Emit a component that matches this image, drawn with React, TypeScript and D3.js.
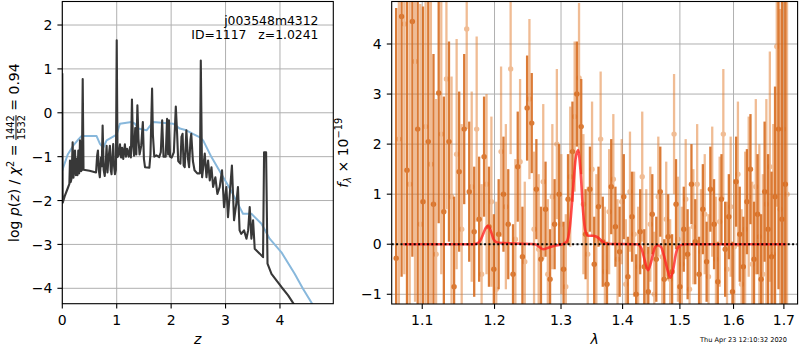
import React from "react";
import * as d3 from "d3";

// p(z) panel: redshift grid and log p(z) of the fit (dark) and the prior-like curve (blue)
const zDark = [
  0.0, 0.008, 0.05, 0.1, 0.13, 0.141, 0.155, 0.17, 0.19, 0.205, 0.22, 0.233, 0.25, 0.265, 0.28,
  0.294, 0.31, 0.325, 0.345, 0.36, 0.375, 0.39, 0.5, 0.62, 0.64, 0.655, 0.67, 0.69, 0.71, 0.725,
  0.741, 0.76, 0.78, 0.8, 0.814, 0.83, 0.85, 0.875, 0.89, 0.905, 0.92, 0.936, 0.95, 0.967, 0.985,
  1.0, 1.015, 1.04, 1.06, 1.08, 1.1, 1.12, 1.15, 1.17, 1.19, 1.22, 1.245, 1.26, 1.28, 1.3, 1.32,
  1.34, 1.36, 1.38, 1.4, 1.42, 1.45, 1.48, 1.5, 1.52, 1.6, 1.62, 1.65, 1.665, 1.69, 1.73, 1.78,
  1.81, 1.835, 1.86, 1.9, 1.925, 1.945, 1.96, 1.98, 2.01, 2.05, 2.086, 2.11, 2.13, 2.17, 2.19,
  2.21, 2.23, 2.25, 2.28, 2.31, 2.33, 2.355, 2.37, 2.4, 2.43, 2.48, 2.53, 2.545, 2.569, 2.618,
  2.649, 2.679, 2.71, 2.741, 2.771, 2.813, 2.85, 2.893, 2.935, 2.972, 3.015, 3.045, 3.117, 3.156,
  3.197, 3.228, 3.258, 3.288, 3.34, 3.384, 3.415, 3.444, 3.475, 3.506, 3.536, 3.628, 3.689, 3.708,
  3.745, 3.771, 3.844, 3.935, 4.027, 4.15, 4.27, 4.4,
];
const logpDark = [
  0.9, -2.05, -1.88, -1.72, -1.62, -1.09, -1.58, -1.5, -0.67, -1.48, -1.25, -0.86, -1.42, -1.05, -1.42,
  -0.86, -1.38, -0.63, -1.33, -1.3, 0.77, -1.3, -1.32, -1.36, -0.98, -0.86, -1.3, -1.47, -1.02, -1.22,
  -0.29, -1.3, -1.44, -1.1, -0.75, -1.36, -1.02, -0.75, -1.3, -1.4, -1.02, -0.71, -1.2, -1.4, -1.3,
  1.65, -1.01, -0.95, -0.72, -1.02, -0.8, -1.05, -0.72, -1.0, -0.82, -1.0, -0.78, -1.02, 0.3, -0.75, -0.98,
  -0.35, -0.95, 0.17, -0.6, -0.95, -0.75, -0.21, -1.05, -1.24, -1.25, -0.95, 0.55, -0.5, -1.0, -0.97, -1.01,
  -0.9, -0.17, -1.0, -1.0, -0.14, -0.95, -0.17, -1.0, -1.02, -0.9, 0.14, -0.48, -1.1, -1.16, -0.55,
  -0.48, -1.2, -1.24, -0.4, -1.05, -1.24, -0.62, -0.48, -1.1, -1.31, -1.38, -1.38, 1.19, -1.47, -0.93,
  -1.47, -1.09, -1.54, -1.24, -1.69, -1.47, -1.85, -1.69, -1.31, -2.15, -1.69, -2.38, -1.2, -2.45,
  -2.07, -1.69, -2.68, -2.76, -2.68, -2.87, -2.68, -2.15, -2.87, -2.45, -3.1, -3.21, -3.29, -0.9,
  -0.9, -3.44, -3.67, -3.82, -3.97, -4.16, -4.39, -4.62,
];
const zBlue = [
  0.0, 0.019, 0.1, 0.2, 0.3, 0.355, 0.63, 0.692, 0.753, 0.814, 0.998, 1.058, 1.273, 1.334, 1.395,
  1.548, 1.67, 2.04, 2.16, 2.28, 2.4, 2.53, 2.588, 2.741, 2.92, 3.1, 3.258, 3.32, 3.475, 3.66, 3.81,
  4.027, 4.27, 4.423, 4.61, 4.7,
];
const logpBlue = [
  -1.32, -1.24, -0.95, -0.75, -0.6, -0.53, -0.53, -0.71, -0.8, -0.63, -0.5, -0.25, -0.21, -0.25, -0.36,
  -0.4, -0.21, -0.25, -0.36, -0.4, -0.48, -0.56, -0.63, -1.01, -1.39, -1.77, -2.15, -2.3, -2.3, -2.53, -2.87,
  -3.18, -3.67, -4.01, -4.39, -4.58,
];

// spectrum panel: two sets of grism points (dark / light)
const darkWave = [
  1.066, 1.073, 1.08, 1.087, 1.094, 1.101, 1.108, 1.115, 1.122, 1.129,
  1.136, 1.143, 1.15, 1.157, 1.164, 1.171, 1.178, 1.185, 1.192, 1.199,
  1.206, 1.213, 1.22, 1.227, 1.234, 1.241, 1.248, 1.255, 1.262, 1.269,
  1.276, 1.283, 1.29, 1.297, 1.304, 1.311, 1.318, 1.325, 1.332, 1.339,
  1.346, 1.353, 1.36, 1.367, 1.374, 1.381, 1.388, 1.395, 1.402, 1.409,
  1.416, 1.423, 1.43, 1.437, 1.444, 1.451, 1.458, 1.465, 1.472, 1.479,
  1.486, 1.493, 1.5, 1.507, 1.514, 1.521, 1.528, 1.535, 1.542, 1.549,
  1.556, 1.563, 1.57, 1.577, 1.584, 1.591, 1.598, 1.605, 1.612, 1.619,
  1.626, 1.633, 1.64, 1.647, 1.654, 1.661, 1.668, 1.675, 1.682, 1.689,
  1.696, 1.703,
];
const darkFlux = [
  -0.28, 4.55, 1.48, 4.45, 2.3, 0.85, 2.05, 0.8, 3.02, 0.65,
  2.05, -0.85, 1.45, 2.3, 1.05, 0.25, 0.5, 1.75, 0.35, -0.5,
  0.2, 1.0, 0.4, -0.6, 1.55, -0.25, 2.72, 2.42, 1.1, -0.3,
  0.7, -0.7, 0.4, 1.0, -0.5, 0.9, 1.85, 3.0, 2.35, 0.2,
  1.1, -0.4, 0.75, 0.05, -0.8, 1.15, 0.35, -0.15, 0.95, -0.65,
  0.55, -1.0, 0.25, -0.45, -0.95, 0.6, -0.3, 1.05, -0.7, 0.15,
  -0.55, 0.8, -0.85, 0.3, -0.2, 1.2, 0.05, -0.6, 0.7, -0.35,
  1.1, 0.4, -0.75, 0.9, -0.1, 0.55, -0.95, 1.25, 0.2, -0.45,
  0.85, 1.5, -0.3, 0.6, -0.7, 1.05, 0.3, -0.25, 0.95, 2.3,
  0.5, 1.2,
];
const darkErr = [
  5.0, 5.2, 4.9, 4.7, 4.4, 3.9, 3.4, 3.0, 2.6, 2.3,
  2.0, 1.8, 1.6, 1.5, 1.4, 1.3, 1.25, 1.2, 1.2, 1.1,
  1.1, 1.15, 1.1, 1.0, 1.1, 1.0, 1.05, 1.0, 1.0, 1.05,
  0.95, 1.0, 0.9, 1.0, 0.95, 0.9, 1.0, 1.05, 0.95, 0.9,
  0.85, 0.95, 0.8, 0.9, 0.85, 0.95, 0.8, 0.9, 0.85, 0.8,
  0.9, 0.8, 0.85, 0.75, 0.9, 0.8, 0.85, 0.9, 0.8, 0.85,
  0.75, 0.9, 0.8, 0.85, 0.9, 0.8, 0.85, 0.75, 0.9, 0.8,
  0.85, 0.9, 0.8, 0.9, 0.95, 0.85, 1.0, 0.9, 0.95, 1.0,
  1.05, 1.1, 1.15, 1.2, 1.3, 1.4, 1.5, 1.7, 2.2, 3.2,
  4.5, 5.5,
];
const lightWave = [
  1.0695, 1.0765, 1.0835, 1.0905, 1.0975, 1.1045, 1.1115, 1.1185, 1.1255, 1.1325,
  1.1395, 1.1465, 1.1535, 1.1605, 1.1675, 1.1745, 1.1815, 1.1885, 1.1955, 1.2025,
  1.2095, 1.2165, 1.2235, 1.2305, 1.2375, 1.2445, 1.2515, 1.2585, 1.2655, 1.2725,
  1.2795, 1.2865, 1.2935, 1.3005, 1.3075, 1.3145, 1.3215, 1.3285, 1.3355, 1.3425,
  1.3495, 1.3565, 1.3635, 1.3705, 1.3775, 1.3845, 1.3915, 1.3985, 1.4055, 1.4125,
  1.4195, 1.4265, 1.4335, 1.4405, 1.4475, 1.4545, 1.4615, 1.4685, 1.4755, 1.4825,
  1.4895, 1.4965, 1.5035, 1.5105, 1.5175, 1.5245, 1.5315, 1.5385, 1.5455, 1.5525,
  1.5595, 1.5665, 1.5735, 1.5805, 1.5875, 1.5945, 1.6015, 1.6085, 1.6155, 1.6225,
  1.6295, 1.6365, 1.6435, 1.6505, 1.6575, 1.6645, 1.6715, 1.6785, 1.6855, 1.6925,
  1.6995, 1.7065,
];
const lightFlux = [
  2.1, 4.4, 1.2, 3.65, 0.4, 2.35, 1.6, -0.2, 2.2, 3.3,
  0.95, 1.8, 0.3, 4.3, 1.15, 2.3, -0.6, 1.2, 0.85, -0.9,
  1.85, 0.75, 3.5, 0.1, 1.65, -0.35, 2.9, 0.3, -0.1, 1.25,
  -0.6, 0.95, 2.0, 0.4, -0.85, 1.35, 2.55, 3.32, 0.8, -0.2,
  1.5, 0.1, 2.1, -0.55, 0.65, 1.3, -0.3, 0.85, -0.8, 1.05,
  0.2, -0.45, 1.35, -0.15, 0.4, -1.0, 0.95, -0.25, 0.5, -0.7,
  2.2, 0.1, -0.4, 0.9, -0.9, 0.35, 1.2, -0.15, 0.6, -0.65,
  1.05, -0.3, 0.45, 2.2, -0.5, 0.75, -0.05, 1.4, -0.8, 0.3,
  0.95, -0.4, 1.15, 0.15, -0.6, 0.8, 1.55, -0.2, 3.95, 0.7,
  2.3, 1.0,
];
const lightErr = [
  5.2, 5.0, 5.0, 4.8, 4.4, 4.0, 3.5, 3.1, 2.8, 2.6,
  2.4, 2.3, 2.1, 2.0, 1.9, 1.85, 1.8, 1.8, 1.7, 1.75,
  1.7, 1.65, 1.7, 1.6, 1.65, 1.6, 1.6, 1.55, 1.5, 1.55,
  1.5, 1.45, 1.5, 1.4, 1.45, 1.4, 1.5, 1.5, 1.4, 1.35,
  1.35, 1.3, 1.35, 1.3, 1.25, 1.3, 1.2, 1.25, 1.3, 1.2,
  1.25, 1.2, 1.3, 1.25, 1.15, 1.25, 1.2, 1.25, 1.15, 1.2,
  1.2, 1.25, 1.15, 1.2, 1.25, 1.15, 1.2, 1.25, 1.2, 1.25,
  1.3, 1.25, 1.3, 1.3, 1.35, 1.4, 1.35, 1.45, 1.5, 1.55,
  1.6, 1.65, 1.75, 1.85, 2.0, 2.1, 2.3, 2.6, 3.2, 4.0,
  4.8, 5.5,
];

// best-fit line model
const modelWave = [
  1.075, 1.17, 1.178, 1.183, 1.1875, 1.191, 1.195, 1.199, 1.205, 1.26, 1.266, 1.2725, 1.28, 1.29,
  1.302, 1.309, 1.314, 1.319, 1.323, 1.327, 1.331, 1.335, 1.339, 1.343, 1.35, 1.357, 1.364, 1.372,
  1.425, 1.432, 1.438, 1.4435, 1.449, 1.455, 1.46, 1.466, 1.472, 1.478, 1.483, 1.488, 1.493, 1.499,
  1.51, 1.705,
];
const modelFlux = [
  0, 0, 0.04, 0.18, 0.33, 0.37, 0.25, 0.09, 0.03, 0, -0.05, -0.1, -0.07, -0.03,
  0, 0.05, 0.35, 1.1, 1.7, 1.88, 1.45, 0.65, 0.25, 0.17, 0.17, 0.15, 0.08, 0.01,
  0, -0.08, -0.33, -0.52, -0.35, -0.08, -0.02, -0.05, -0.25, -0.52, -0.67, -0.5, -0.18, -0.03,
  0, 0,
];

const zTicks = [0, 1, 2, 3, 4];
const logpTicks = [-4, -3, -2, -1, 0, 1, 2];
const waveTicks = [1.1, 1.2, 1.3, 1.4, 1.5, 1.6, 1.7];
const fluxTicks = [-1, 0, 1, 2, 3, 4];

const FONT = "DejaVu Sans, sans-serif";
const GRID = "#b0b0b0";
const minus = (v: number) => String(v).replace("-", "\u2212");

export default function App() {
  // left axes box
  const L = { x0: 62.3, x1: 333.3, y0: 1.5, y1: 303.7 };
  // right axes box
  const R = { x0: 391.7, x1: 797.6, y0: 1.5, y1: 304 };

  const xz = d3.scaleLinear().domain([0, 4.98]).range([L.x0, L.x1]);
  const yp = d3.scaleLinear().domain([-4.351, 2.536]).range([L.y1, L.y0]);
  const xw = d3.scaleLog().domain([1.0603, 1.7283]).range([R.x0, R.x1]);
  const yf = d3.scaleLinear().domain([-1.194, 4.849]).range([R.y1, R.y0]);

  const darkPath = d3
    .line<number>()
    .x((_, i) => xz(zDark[i]))
    .y((d) => yp(d))(logpDark);
  const bluePath = d3
    .line<number>()
    .x((_, i) => xz(zBlue[i]))
    .y((d) => yp(d))(logpBlue);
  const modelPath = d3
    .line<number>()
    .x((_, i) => xw(modelWave[i]))
    .y((d) => yf(d))
    .curve(d3.curveMonotoneX)(modelFlux);

  const errSet = (
    wave: number[],
    flux: number[],
    err: number[],
    color: string,
    opacity: number,
    key: string
  ) => (
    <g key={key} opacity={opacity}>
      {wave.map((w, i) => (
        <line
          key={i}
          x1={xw(w)}
          x2={xw(w)}
          y1={yf(flux[i] - err[i])}
          y2={yf(flux[i] + err[i])}
          stroke={color}
          strokeWidth={2.3}
        />
      ))}
      {wave.map((w, i) => (
        <circle key={"c" + i} cx={xw(w)} cy={yf(flux[i])} r={2.7} fill={color} />
      ))}
    </g>
  );

  return (
    <div style={{ position: "absolute", left: 0, top: 0 }}>
      <svg width={800} height={350} style={{ display: "block", background: "#fff" }} fontFamily={FONT}>
        <defs>
          <clipPath id="clipL">
            <rect x={L.x0} y={L.y0} width={L.x1 - L.x0} height={L.y1 - L.y0} />
          </clipPath>
          <clipPath id="clipR">
            <rect x={R.x0} y={R.y0} width={R.x1 - R.x0} height={R.y1 - R.y0} />
          </clipPath>
        </defs>

        {/* ---------- left panel: p(z) ---------- */}
        <g>
          {zTicks.map((t) => (
            <line key={"gx" + t} x1={xz(t)} x2={xz(t)} y1={L.y0} y2={L.y1} stroke={GRID} strokeWidth={1} />
          ))}
          {logpTicks.map((t) => (
            <line key={"gy" + t} x1={L.x0} x2={L.x1} y1={yp(t)} y2={yp(t)} stroke={GRID} strokeWidth={1} />
          ))}
          <g clipPath="url(#clipL)">
            <path d={bluePath ?? ""} fill="none" stroke="#88b8dc" strokeWidth={2} strokeLinejoin="round" />
            <path d={darkPath ?? ""} fill="none" stroke="#383838" strokeWidth={2.1} strokeLinejoin="round" />
          </g>
          <rect x={L.x0} y={L.y0} width={L.x1 - L.x0} height={L.y1 - L.y0} fill="none" stroke="#000" strokeWidth={1.1} />
          {zTicks.map((t) => (
            <g key={"tx" + t}>
              <line x1={xz(t)} x2={xz(t)} y1={L.y1} y2={L.y1 + 4.9} stroke="#000" strokeWidth={1.1} />
              <text x={xz(t)} y={324.8} textAnchor="middle" fontSize={14}>
                {minus(t)}
              </text>
            </g>
          ))}
          {logpTicks.map((t) => (
            <g key={"ty" + t}>
              <line x1={L.x0 - 4.9} x2={L.x0} y1={yp(t)} y2={yp(t)} stroke="#000" strokeWidth={1.1} />
              <text x={L.x0 - 10} y={yp(t) + 5.1} textAnchor="end" fontSize={14}>
                {minus(t)}
              </text>
            </g>
          ))}
          <text x={(L.x0 + L.x1) / 2} y={344} textAnchor="middle" fontSize={14} fontStyle="italic">
            z
          </text>
          <text x={318.5} y={25} textAnchor="end" fontSize={12.4}>
            j003548m4312
          </text>
          <text x={318.5} y={38.5} textAnchor="end" fontSize={12.4} style={{ whiteSpace: "pre" }}>
            {"ID=1117   z=1.0241"}
          </text>
          <text
            transform={`translate(18.5,${(L.y0 + L.y1) / 2}) rotate(-90)`}
            textAnchor="middle"
            fontSize={14}
            style={{ whiteSpace: "pre" }}
          >
            {"log "}
            <tspan fontStyle="italic">p</tspan>
            {"("}
            <tspan fontStyle="italic">z</tspan>
            {") / "}
            <tspan fontStyle="italic">χ</tspan>
            <tspan fontSize={9.8} dy={-5}>
              2
            </tspan>
            <tspan dy={5}>{" = "}</tspan>
            <tspan fontSize={9.8} dy={-4.5}>
              1442
            </tspan>
            <tspan fontSize={9.8} dx={-24.9} dy={10.5} textDecoration="overline">
              1532
            </tspan>
            <tspan dy={-6}>{" = 0.94"}</tspan>
          </text>
        </g>

        {/* ---------- right panel: spectrum ---------- */}
        <g>
          {waveTicks.map((t) => (
            <line key={"gw" + t} x1={xw(t)} x2={xw(t)} y1={R.y0} y2={R.y1} stroke={GRID} strokeWidth={1} />
          ))}
          {fluxTicks.map((t) => (
            <line key={"gf" + t} x1={R.x0} x2={R.x1} y1={yf(t)} y2={yf(t)} stroke={GRID} strokeWidth={1} />
          ))}
          <g clipPath="url(#clipR)">
            {errSet(lightWave, lightFlux, lightErr, "#e27a2a", 0.5, "light")}
            {errSet(darkWave, darkFlux, darkErr, "#d6691b", 0.88, "dark")}
            <path d={modelPath ?? ""} fill="none" stroke="#ff2020" strokeOpacity={0.78} strokeWidth={2.6} />
            <line
              x1={R.x0}
              x2={R.x1}
              y1={yf(0)}
              y2={yf(0)}
              stroke="#000"
              strokeWidth={2}
              strokeDasharray="2,2.4"
            />
          </g>
          <rect x={R.x0} y={R.y0} width={R.x1 - R.x0} height={R.y1 - R.y0} fill="none" stroke="#000" strokeWidth={1.1} />
          {waveTicks.map((t) => (
            <g key={"tw" + t}>
              <line x1={xw(t)} x2={xw(t)} y1={R.y1} y2={R.y1 + 4.9} stroke="#000" strokeWidth={1.1} />
              <text x={xw(t)} y={324.8} textAnchor="middle" fontSize={14}>
                {t.toFixed(1)}
              </text>
            </g>
          ))}
          {fluxTicks.map((t) => (
            <g key={"tf" + t}>
              <line x1={R.x0 - 4.9} x2={R.x0} y1={yf(t)} y2={yf(t)} stroke="#000" strokeWidth={1.1} />
              <text x={R.x0 - 10} y={yf(t) + 5.1} textAnchor="end" fontSize={14}>
                {minus(t)}
              </text>
            </g>
          ))}
          <text x={(R.x0 + R.x1) / 2} y={344} textAnchor="middle" fontSize={14} fontStyle="italic">
            λ
          </text>
          <text
            transform={`translate(348,${(R.y0 + R.y1) / 2}) rotate(-90)`}
            textAnchor="middle"
            fontSize={14}
          >
            <tspan fontStyle="italic">f</tspan>
            <tspan fontSize={9.8} dy={3} fontStyle="italic">
              λ
            </tspan>
            <tspan dy={-3}>{" × 10"}</tspan>
            <tspan fontSize={9.8} dy={-6}>
              −19
            </tspan>
          </text>
          <text x={787} y={342} textAnchor="end" fontSize={6.6}>
            Thu Apr 23 12:10:32 2020
          </text>
        </g>
      </svg>
    </div>
  );
}
